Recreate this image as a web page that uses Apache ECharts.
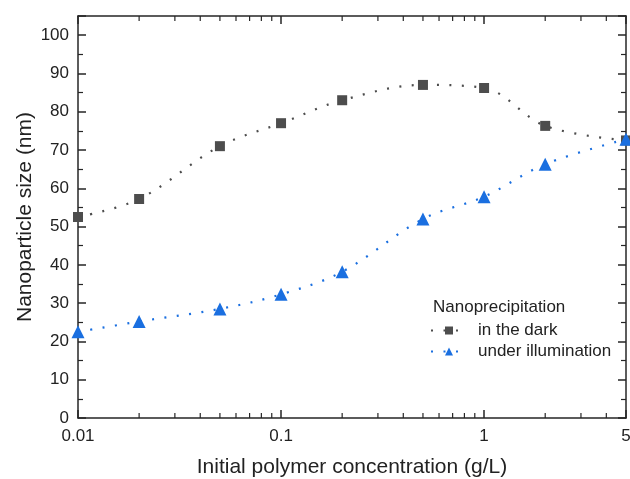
<!DOCTYPE html>
<html>
<head>
<meta charset="utf-8">
<script src="https://cdn.jsdelivr.net/npm/echarts@6/dist/echarts.min.js"></script>
<style>
  html, body { margin: 0; padding: 0; background: #fff; }
  #chart { width: 630px; height: 479px; }
</style>
</head>
<body>
<div id="chart"></div>
<script>
// concentrations (g/L) and particle sizes (nm)
var conc = [0.01, 0.02, 0.05, 0.1, 0.2, 0.5, 1, 2, 5];
var darkSize = [52.5, 57.2, 71, 77, 83, 87, 86.2, 76.3, 72.5];
var lightSize = [22.5, 25.2, 28.5, 32.3, 38.2, 52, 57.8, 66.3, 72.8];
var minorX = [0.02, 0.03, 0.04, 0.05, 0.06, 0.07, 0.08, 0.09,
              0.2, 0.3, 0.4, 0.5, 0.6, 0.7, 0.8, 0.9, 2, 3, 4];

var font = 'Liberation Sans, Arial, sans-serif';
var axisCol = '#262626';
var darkCol = '#4d4d4d';
var blueCol = '#1a6fe0';

function pairs(ys) {
    var out = [];
    for (var i = 0; i < conc.length; i++) out.push([conc[i], ys[i]]);
    return out;
}

var chart = echarts.init(document.getElementById('chart'));

var option = {
    animation: false,
    title: {
        text: 'Nanoprecipitation',
        left: 428,
        top: 294,
        textStyle: { fontFamily: font, fontSize: 17, fontWeight: 'normal', color: '#222' }
    },
    legend: {
        data: ['in the dark', 'under illumination'],
        orient: 'vertical',
        left: 425,
        top: 317,
        itemWidth: 36,
        itemHeight: 10,
        itemGap: 4,
        textStyle: { fontFamily: font, fontSize: 17, color: '#222', padding: [0, 0, 0, 6] }
    },
    grid: { left: 78, right: 4, top: 16, bottom: 61, outerBoundsMode: 'none' },
    xAxis: [{
        type: 'log',
        logBase: 10,
        min: 0.01,
        max: 5,
        name: 'Initial polymer concentration (g/L)',
        nameLocation: 'middle',
        nameGap: 39,
        nameMoveOverlap: false,
        nameTextStyle: { fontFamily: font, fontSize: 21, color: '#222' },
        axisLine: { onZero: false, lineStyle: { color: axisCol, width: 1.5 } },
        axisTick: { inside: true, length: 8, lineStyle: { color: axisCol, width: 1.5 } },
        axisLabel: { fontFamily: font, fontSize: 17, color: '#222', margin: 10 },
        splitLine: { show: false }
    }, {
        type: 'log',
        logBase: 10,
        min: 0.01,
        max: 5,
        position: 'top',
        axisLine: { onZero: false, lineStyle: { color: axisCol, width: 1.5 } },
        axisTick: { inside: true, length: 8, lineStyle: { color: axisCol, width: 1.5 } },
        axisLabel: { show: false },
        splitLine: { show: false }
    }],
    yAxis: [{
        type: 'value',
        min: 0,
        max: 105,
        interval: 10,
        name: 'Nanoparticle size (nm)',
        nameLocation: 'middle',
        nameGap: 42,
        nameMoveOverlap: false,
        nameTextStyle: { fontFamily: font, fontSize: 21, color: '#222' },
        axisLine: { show: true, onZero: false, lineStyle: { color: axisCol, width: 1.5 } },
        axisTick: { inside: true, length: 8, lineStyle: { color: axisCol, width: 1.5 } },
        minorTick: { show: true, splitNumber: 2, length: 5, lineStyle: { color: axisCol, width: 1.2 } },
        axisLabel: { fontFamily: font, fontSize: 17, color: '#222', margin: 9, showMaxLabel: false },
        splitLine: { show: false }
    }, {
        type: 'value',
        min: 0,
        max: 105,
        interval: 10,
        position: 'right',
        axisLine: { show: true, onZero: false, lineStyle: { color: axisCol, width: 1.5 } },
        axisTick: { inside: true, length: 8, lineStyle: { color: axisCol, width: 1.5 } },
        minorTick: { show: true, splitNumber: 2, length: 5, lineStyle: { color: axisCol, width: 1.2 } },
        axisLabel: { show: false },
        splitLine: { show: false }
    }],
    series: [{
        name: 'in the dark',
        type: 'line',
        data: pairs(darkSize),
        smooth: 0.35,
        symbol: 'rect',
        symbolSize: 10,
        itemStyle: { color: darkCol },
        lineStyle: { color: darkCol, width: 2.2, type: [2, 10.5] },
        z: 3
    }, {
        name: 'under illumination',
        type: 'line',
        data: pairs(lightSize),
        smooth: 0.35,
        symbol: 'triangle',
        symbolSize: 13,
        itemStyle: { color: blueCol },
        lineStyle: { color: blueCol, width: 2.2, type: [2, 10.5] },
        z: 4
    }, {
        // minor ticks of the log axis (bottom and top)
        type: 'custom',
        silent: true,
        data: minorX.map(function (v) { return [v]; }),
        encode: { x: 0 },
        renderItem: function (params, api) {
            var v = api.value(0);
            var b = api.coord([v, 0]);
            var t = api.coord([v, 105]);
            var st = { stroke: axisCol, lineWidth: 1.2 };
            return {
                type: 'group',
                children: [
                    { type: 'line', shape: { x1: b[0], y1: b[1], x2: b[0], y2: b[1] - 5 }, style: st },
                    { type: 'line', shape: { x1: t[0], y1: t[1], x2: t[0], y2: t[1] + 5 }, style: st }
                ]
            };
        },
        z: 1
    }]
};

chart.setOption(option);
</script>
</body>
</html>
